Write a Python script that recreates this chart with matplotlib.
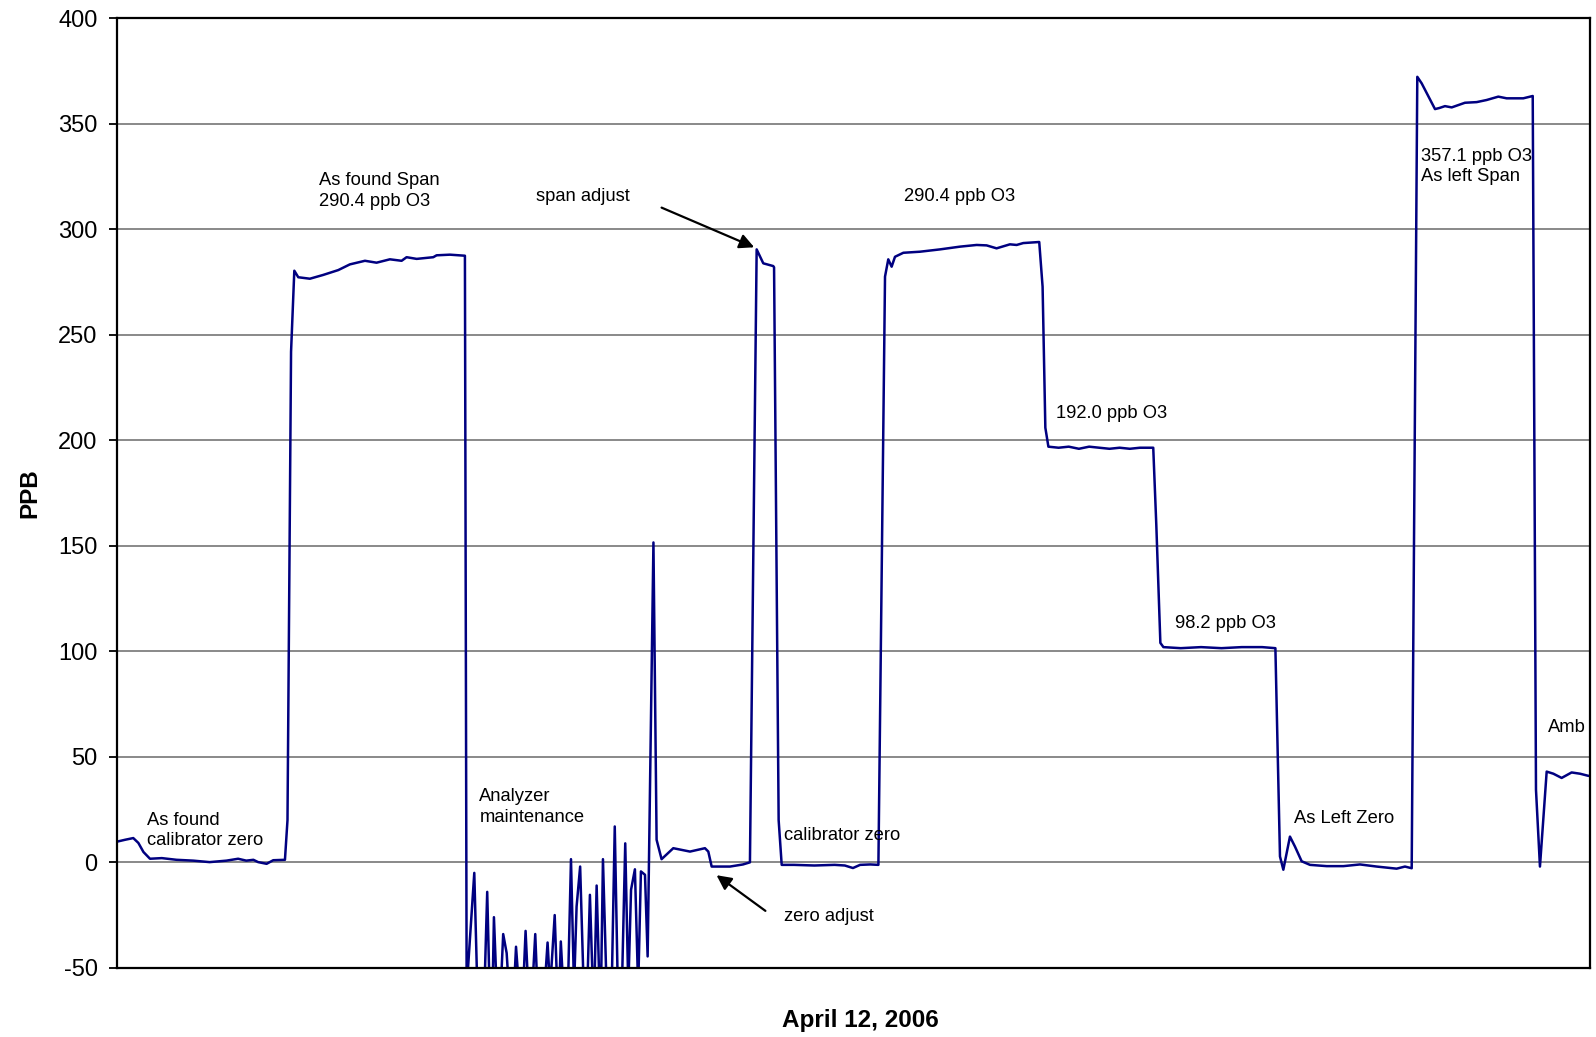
import matplotlib
matplotlib.use("Agg")
import matplotlib.pyplot as plt

plt.rcParams['font.family'] = ['Liberation Sans', 'DejaVu Sans']
plt.rcParams['axes.unicode_minus'] = False

# time index (arbitrary units across the day) and ozone reading (ppb)
t_index = [
    0, 8, 16, 21, 26, 32.4, 44, 58.5, 75, 91, 107.5, 119, 127, 134, 138.7, 147, 153.5, 165,
    167.5, 171, 174.2, 178.1, 189.5, 202.6, 217.4, 228.8, 243.6, 255, 268.1, 279.6, 284.5,
    294.4, 310.7, 314, 327.1, 341.8, 343.5,
    351, 354, 361, 363.7, 366, 369, 370.3, 373, 377, 379.4, 382.8, 385, 390, 392, 395, 399,
    401.4, 404, 408, 410.9, 413, 420, 423, 425.5, 430, 432.5, 434.5, 436, 438.5, 443, 446,
    449, 451.5, 455, 458.5, 462, 464.6, 467.5, 469, 471.2, 474, 475.5, 477.4, 481, 486, 489,
    492, 496, 499.3, 502.3, 505, 508.8, 512, 514.7, 518.7, 521.3, 527,
    530.1, 535, 546.5, 562.9, 577.6, 580.9, 584.2, 602.2, 615, 621.8, 628.4, 634.9, 644.7,
    645.5, 650, 653, 665, 685, 705, 715, 723, 730, 740, 748,
    754.5, 757.7, 761, 764.3, 772.5, 788.8, 808.5, 828.1, 844.5, 854.3, 864.1, 877.2, 883.8,
    890.3, 906, 909.3, 912, 915, 925, 935, 945, 955, 965, 975, 985, 995, 1005, 1018, 1021,
    1025, 1028, 1045, 1065, 1085, 1105, 1125, 1138,
    1142.5, 1145.8, 1152.3, 1157.2, 1163.8, 1172, 1188.4, 1204.8, 1221.1, 1237.5, 1257.1,
    1265.3, 1271.9, 1277.4, 1281.7, 1294.8, 1299, 1304.6, 1311.2, 1324.2, 1335.7, 1345.5,
    1357, 1365.2, 1381.5, 1390.8, 1394, 1397.9, 1404.5, 1411.1, 1419.2, 1429, 1437.3,
    1445.4, 1447,
]
ppb = [
    9.8, 10.7, 11.5, 9.2, 4.9, 1.7, 2.0, 1.2, 0.8, 0.1, 0.8, 1.7, 0.8, 1.2, 0.1, -0.7, 1.0, 1.2,
    20, 242, 280.4, 277.3, 276.6, 278.4, 280.7, 283.4, 285.1, 284.2, 285.8, 285.1, 286.8,
    286.0, 286.8, 287.7, 288.0, 287.5, -60,
    -5, -60, -60, -14, -60, -60, -26, -60, -60, -34, -43, -60, -60, -40, -60, -60,
    -32.5, -60, -60, -34, -60, -60, -38, -60, -25, -60, -60, -37.5, -60, -60, 1.5,
    -60, -21, -2, -60, -60, -15.4, -60, -60, -11, -60, -60, 1.5, -60, -60, 17,
    -60, -60, 9, -60, -13, -3.3, -60, -4.3, -5.9, -44.6, 151.6,
    10.7, 1.5, 6.7, 5.1, 6.7, 5.1, -2, -2, -1, 0, 290.5, 283.9, 282.6,
    282.0, 20, -1.2, -1.2, -1.5, -1.2, -1.5, -2.7, -1.2, -1.0, -1.2,
    277.6, 285.8, 282.3, 287, 288.9, 289.4, 290.5, 291.8, 292.6, 292.4, 291.0, 292.9, 292.6,
    293.5, 294.0, 272.8, 206, 197, 196.5, 197, 196, 197, 196.5, 196, 196.5, 196, 196.5, 196.5, 160,
    104, 102, 101.5, 102, 101.5, 102, 102, 101.5,
    2.8, -3.5, 12.2, 7.5, 0.5, -1.2, -1.8, -1.8, -1.0, -2.0, -3.0,
    -2.0, -2.8, 372.3, 369.2, 357, 357.5, 358.4, 357.8, 360, 360.3, 361.3,
    362.9, 362.1, 362.1, 363.2, 34.4, -2, 43, 42, 40, 42.6, 42,
    41, 41,
]
y_ticks = [-50, 0, 50, 100, 150, 200, 250, 300, 350, 400]

fig = plt.figure(figsize=(15.96, 10.37), dpi=100)
ax = fig.add_axes([0.0733, 0.0667, 0.9229, 0.9156])

ax.plot(t_index, ppb, color='#000080', lw=1.8, zorder=3)

ax.set_xlim(0, 1447)
ax.set_ylim(-50, 400)
ax.set_yticks(y_ticks)
ax.set_xticks([])
ax.yaxis.grid(True, color='#808080', lw=1.3)
ax.set_axisbelow(True)
for s in ax.spines.values():
    s.set_color('black')
    s.set_linewidth(1.6)
    s.set_zorder(4)
ax.tick_params(axis='y', direction='out', length=6, width=1.3, pad=8, labelsize=17)

ax.set_ylabel('PPB', fontsize=17.5, fontweight='bold', labelpad=12)
ax.set_xlabel('April 12, 2006', fontsize=17.5, fontweight='bold')
ax.xaxis.set_label_coords(0.5045, -0.043)

fs = 13.2
def lab(x, y, s):
    ax.text(x, y, s, fontsize=fs, ha='left', va='center', linespacing=1.25, clip_on=True, zorder=5)

lab(29, 15.1, 'As found\ncalibrator zero')
lab(198, 318.2, 'As found Span\n290.4 ppb O3')
lab(412, 315.6, 'span adjust')
lab(356, 26.2, 'Analyzer\nmaintenance')
lab(655, 12.7, 'calibrator zero')
lab(655, -25.9, 'zero adjust')
lab(773, 315.6, '290.4 ppb O3')
lab(922, 212.9, '192.0 ppb O3')
lab(1039, 113.0, '98.2 ppb O3')
lab(1156, 20.9, 'As Left Zero')
lab(1281, 329.8, '357.1 ppb O3\nAs left Span')
lab(1406, 63.8, 'Amb')

arrow = dict(arrowstyle='-|>', color='black', lw=1.6, mutation_scale=22, shrinkA=0, shrinkB=0)
ax.annotate('', xy=(626, 291.5), xytext=(535, 310.3), arrowprops=arrow, zorder=6)
ax.annotate('', xy=(589, -6.1), xytext=(637, -23.0), arrowprops=arrow, zorder=6)

fig.savefig('out.png', dpi=100)
